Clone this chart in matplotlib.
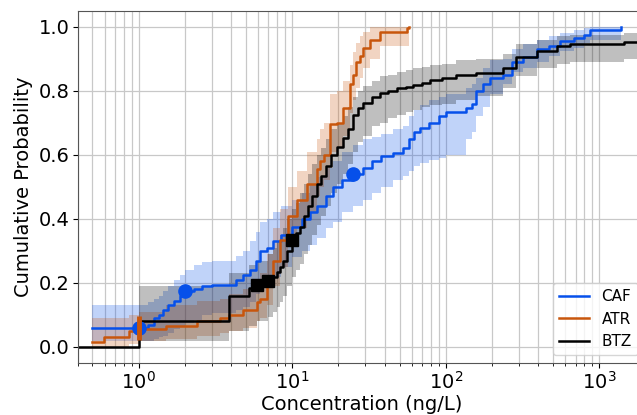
import matplotlib
matplotlib.use("Agg")
import matplotlib.pyplot as plt

# CAF: step points (x in ng/L), ecdf value, lower / upper band
caf_x = [0.5, 1.0, 1.15, 1.25, 1.35, 1.45, 1.55, 1.7, 1.85, 2.0, 2.3, 2.6, 3.0,
         4.3, 4.8, 5.3, 5.8, 6.2, 6.8, 7.5, 8.5, 10.0, 11.5, 13.0, 14.5, 16.5,
         18.5, 21.0, 25.0, 29.0, 33.0, 38.0, 45.0, 53.0, 58.0, 62.0, 68.0, 78.0,
         90.0, 101, 135, 148, 158, 175, 195, 235, 270, 320, 390, 470, 555, 680,
         790, 870, 1380]
caf_y = [0.06, 0.06, 0.07, 0.09, 0.10, 0.115, 0.13, 0.145, 0.16, 0.175, 0.18, 0.19, 0.195,
         0.21, 0.225, 0.24, 0.27, 0.30, 0.31, 0.33, 0.35, 0.375, 0.40, 0.42, 0.44, 0.47,
         0.50, 0.52, 0.54, 0.56, 0.58, 0.595, 0.605, 0.62, 0.65, 0.67, 0.685, 0.70,
         0.72, 0.735, 0.745, 0.76, 0.80, 0.82, 0.84, 0.85, 0.89, 0.905, 0.93, 0.94, 0.955, 0.965,
         0.975, 0.99, 1.0]
caf_lo = [0.02, 0.02, 0.02, 0.025, 0.03, 0.035, 0.045, 0.055, 0.065, 0.075, 0.085, 0.10, 0.105,
          0.115, 0.125, 0.14, 0.165, 0.19, 0.20, 0.22, 0.25, 0.28, 0.30, 0.32, 0.34, 0.37,
          0.39, 0.42, 0.44, 0.46, 0.48, 0.50, 0.52, 0.535, 0.55, 0.565, 0.575, 0.585,
          0.59, 0.60, 0.65, 0.67, 0.72, 0.75, 0.79, 0.82, 0.86, 0.87, 0.89, 0.91, 0.925, 0.935,
          0.95, 0.96, 0.97]
caf_hi = [0.13, 0.13, 0.14, 0.15, 0.16, 0.175, 0.19, 0.21, 0.225, 0.24, 0.255, 0.265, 0.27,
          0.285, 0.30, 0.33, 0.36, 0.39, 0.40, 0.42, 0.44, 0.46, 0.48, 0.51, 0.53, 0.56,
          0.58, 0.61, 0.63, 0.65, 0.655, 0.665, 0.68, 0.69, 0.72, 0.74, 0.755, 0.77,
          0.78, 0.79, 0.81, 0.82, 0.84, 0.87, 0.895, 0.90, 0.93, 0.945, 0.96, 0.97, 0.98, 0.99,
          0.995, 1.0, 1.0]
caf_mark_x = [1.0, 2.0, 25.0]
caf_mark_y = [0.06, 0.175, 0.54]

# ATR
atr_x = [0.5, 0.59, 0.86, 1.0, 1.5, 2.4, 3.4, 3.9, 4.8, 5.9, 6.2, 6.8, 7.5, 8.3, 9.4,
         10.7, 12.4, 14.4, 15.2, 16.0, 17.6, 19.5, 21.4, 23.8, 25.0, 26.2, 27.6, 29.0,
         32.0, 37.2, 55.6, 58.0]
atr_y = [0.015, 0.03, 0.05, 0.055, 0.065, 0.08, 0.09, 0.10, 0.115, 0.14, 0.15, 0.20, 0.27,
         0.335, 0.41, 0.46, 0.51, 0.555, 0.58, 0.60, 0.695, 0.70, 0.745, 0.82, 0.85, 0.89,
         0.91, 0.935, 0.96, 0.985, 0.995, 1.0]
atr_lo = [0.0, 0.0, 0.01, 0.02, 0.025, 0.035, 0.045, 0.05, 0.06, 0.08, 0.09, 0.13, 0.19,
          0.25, 0.32, 0.37, 0.42, 0.47, 0.50, 0.52, 0.61, 0.62, 0.66, 0.73, 0.77, 0.81,
          0.84, 0.87, 0.90, 0.94, 0.94, 0.94]
atr_hi = [0.09, 0.09, 0.10, 0.11, 0.13, 0.145, 0.15, 0.165, 0.18, 0.21, 0.23, 0.29, 0.37,
          0.43, 0.50, 0.55, 0.61, 0.65, 0.68, 0.70, 0.79, 0.80, 0.83, 0.88, 0.92, 0.95,
          0.97, 0.985, 1.0, 1.0, 1.0, 1.0]
atr_mark_x = [1.0]
atr_mark_y = [0.06]

# BTZ
btz_x = [0.4, 1.0, 3.85, 5.2, 5.87, 6.98, 7.5, 7.9, 8.3, 8.7, 9.3, 10.0, 10.6, 11.2, 12.0,
         12.7, 13.5, 14.4, 15.5, 16.7, 18.0, 19.5, 21.4, 23.0, 24.9, 27.0, 29.0, 33.0,
         37.2, 42.0, 47.8, 55.0, 61.5, 70.0, 78.8, 95.0, 117, 158, 237, 288, 392, 528,
         645, 1440, 2500]
btz_y = [0.0, 0.08, 0.16, 0.185, 0.195, 0.205, 0.22, 0.235, 0.25, 0.27, 0.30, 0.333, 0.355,
         0.375, 0.41, 0.44, 0.47, 0.51, 0.535, 0.565, 0.60, 0.625, 0.652, 0.68, 0.725, 0.745,
         0.761, 0.78, 0.792, 0.80, 0.808, 0.813, 0.818, 0.825, 0.834, 0.84, 0.85, 0.855,
         0.87, 0.905, 0.925, 0.94, 0.945, 0.953, 0.953]
btz_lo = [0.0, 0.02, 0.05, 0.065, 0.08, 0.095, 0.11, 0.125, 0.14, 0.16, 0.19, 0.22, 0.24,
          0.26, 0.29, 0.32, 0.35, 0.38, 0.41, 0.44, 0.48, 0.51, 0.54, 0.57, 0.61, 0.64,
          0.66, 0.69, 0.70, 0.715, 0.725, 0.735, 0.74, 0.75, 0.755, 0.76, 0.77, 0.785,
          0.81, 0.845, 0.87, 0.885, 0.89, 0.90, 0.90]
btz_hi = [0.0, 0.19, 0.23, 0.255, 0.27, 0.29, 0.31, 0.33, 0.35, 0.37, 0.40, 0.43, 0.45,
          0.48, 0.51, 0.54, 0.57, 0.60, 0.62, 0.65, 0.68, 0.70, 0.72, 0.75, 0.78, 0.80,
          0.815, 0.83, 0.845, 0.85, 0.86, 0.865, 0.87, 0.875, 0.88, 0.885, 0.895, 0.90,
          0.915, 0.945, 0.96, 0.97, 0.975, 0.98, 0.98]
btz_mark_x = [5.87, 6.98, 10.0]
btz_mark_y = [0.195, 0.205, 0.333]

blue = "#0650ea"
orange = "#c8560c"

fig = plt.figure(figsize=(6.37, 4.15), dpi=100)
ax = fig.add_axes([0.1218, 0.1253, 0.8916, 0.8489])

ax.fill_between(caf_x, caf_lo, caf_hi, step="post", color=blue, alpha=0.25, lw=0)
ax.fill_between(atr_x, atr_lo, atr_hi, step="post", color=orange, alpha=0.25, lw=0)
ax.fill_between(btz_x, btz_lo, btz_hi, step="post", color="black", alpha=0.25, lw=0)

ax.step(caf_x, caf_y, where="post", color=blue, lw=1.8, label="CAF")
ax.step(atr_x, atr_y, where="post", color=orange, lw=1.8, label="ATR")
ax.step(btz_x, btz_y, where="post", color="black", lw=1.8, label="BTZ")

ax.plot(caf_mark_x, caf_mark_y, "o", color=blue, ms=9.5, ls="none")
ax.plot(atr_mark_x, atr_mark_y, "|", color=orange, ms=17, mew=3.5, ls="none")
ax.plot(btz_mark_x, btz_mark_y, "s", color="black", ms=8, ls="none")

ax.set_xscale("log")
ax.set_xlim(0.4, 2000)
ax.set_ylim(-0.05, 1.05)
ax.grid(which="both", color="#c8c8c8", lw=0.9)
ax.set_axisbelow(True)
ax.tick_params(labelsize=14, pad=2.5)
ax.set_xlabel("Concentration (ng/L)", fontsize=14, labelpad=1)
ax.set_ylabel("Cumulative Probability", fontsize=14)
for s in ax.spines.values():
    s.set_color("#555555")

ax.legend(loc="lower right", fontsize=11)

fig.savefig("out.png", dpi=100)
